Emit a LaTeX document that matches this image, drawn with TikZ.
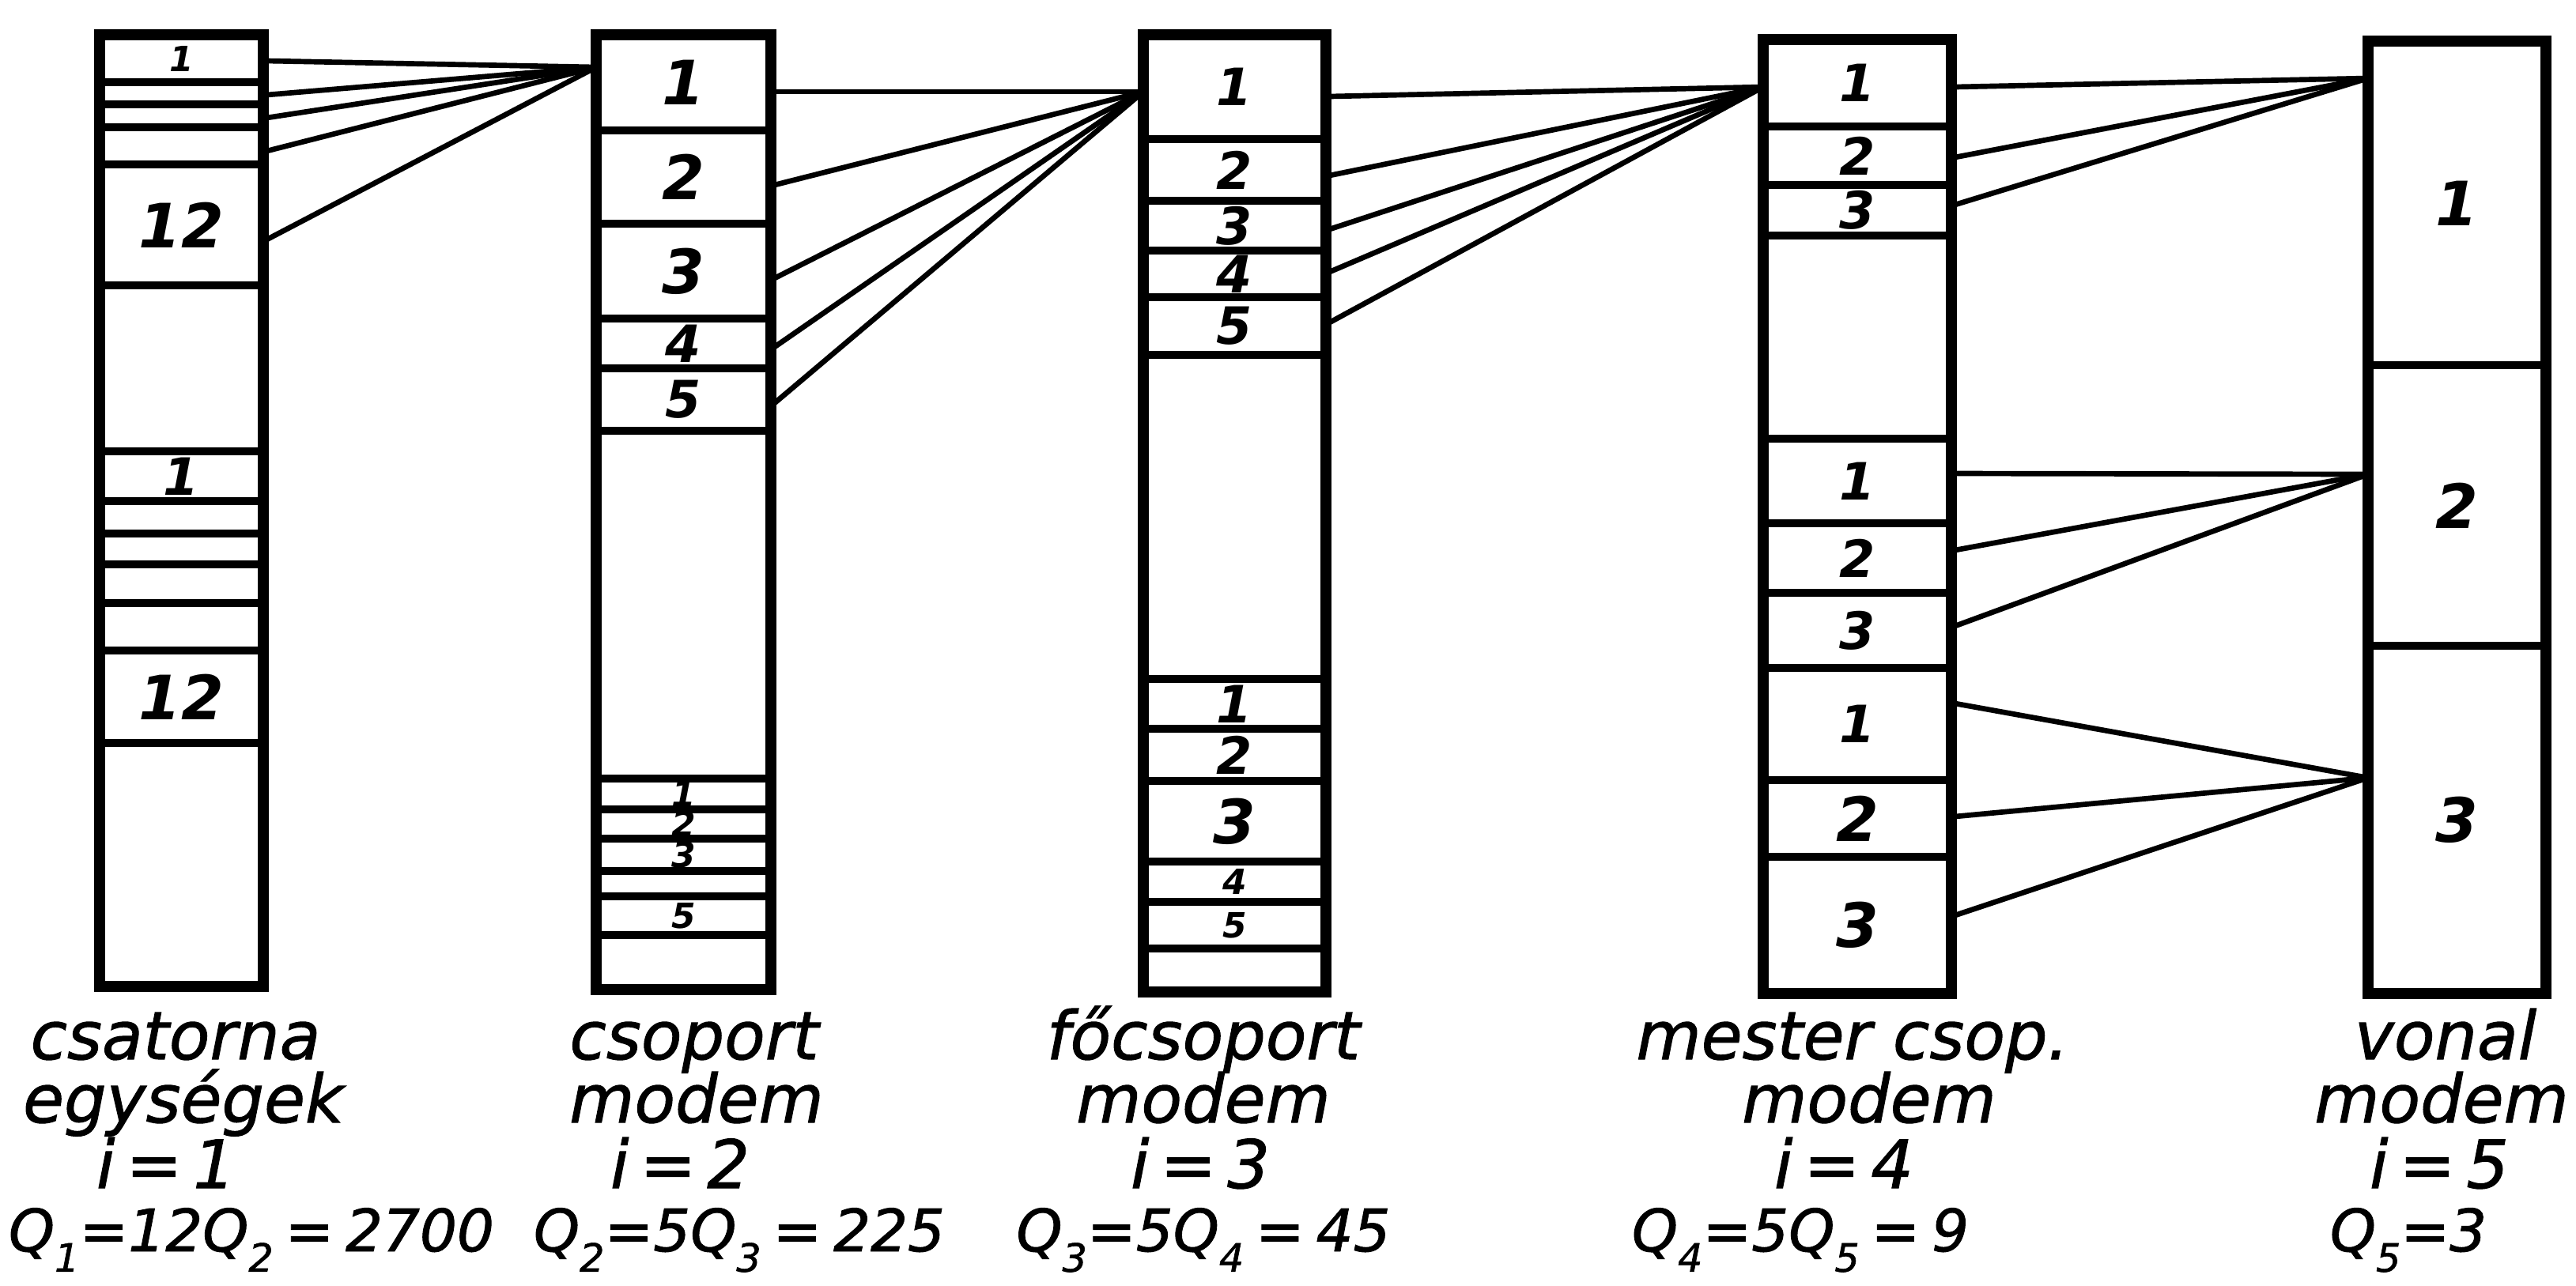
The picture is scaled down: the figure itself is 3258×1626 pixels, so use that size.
\documentclass[tikz,border=0pt]{standalone}
\usepackage{fontspec}
\setmainfont{DejaVu Sans}
\newfontface\capfont{DejaVu Sans Oblique}[FakeBold=1.2]
\usetikzlibrary{fit}
\tikzset{
  slotbox/.style={draw, line width=2.6pt, inner sep=0pt},
  colframe/.style={draw, line width=4pt, inner sep=0pt},
  conn/.style={line width=1.9pt},
  numL/.style={font=\fontsize{22pt}{22pt}\selectfont\bfseries\itshape, inner sep=0pt},
  numM/.style={font=\fontsize{18.5pt}{18.5pt}\selectfont\bfseries\itshape, inner sep=0pt},
  numS/.style={font=\fontsize{12.5pt}{12.5pt}\selectfont\bfseries\itshape, inner sep=0pt},
  caption/.style={font=\fontsize{24pt}{24pt}\capfont, anchor=base, inner sep=0pt},
  qline/.style={font=\fontsize{21pt}{21pt}\capfont, anchor=base, inner sep=0pt},
}
\newcommand\slotn[7]{\node[slotbox, fit={(#2,#4)(#3,#5)}, label={[#6]center:#7}] (#1) {};}
\newcommand\slote[5]{\node[slotbox, fit={(#2,#4)(#3,#5)}] (#1) {};}
\newcommand\qsub[1]{\raisebox{-0.35em}{\fontsize{14pt}{14pt}\capfont #1}}
\begin{document}
\begin{tikzpicture}[x=0.01cm, y=-0.01cm]
\useasboundingbox (0,0) rectangle (3258,1626);
% ---------- column 1 ----------
\slotn{s1a}{126}{333}{44}{104}{numS}{1}
\slote{s1b}{126}{333}{104}{132}
\slote{s1c}{126}{333}{132}{161}
\slote{s1d}{126}{333}{161}{208}
\slotn{s1e}{126}{333}{208}{361}{numL}{12}
\slote{s1f}{126}{333}{361}{571}
\slotn{s1g}{126}{333}{571}{634}{numM}{1}
\slote{s1h}{126}{333}{634}{675}
\slote{s1i}{126}{333}{675}{714}
\slote{s1j}{126}{333}{714}{763}
\slote{s1k}{126}{333}{763}{823}
\slotn{s1l}{126}{333}{823}{940}{numL}{12}
\slote{s1m}{126}{333}{940}{1248}
\node[colframe, fit={(126,44)(333,1248)}] (c1) {};
% ---------- column 2 ----------
\slotn{s2a}{754}{975}{44}{165}{numL}{1}
\slotn{s2b}{754}{975}{165}{283}{numL}{2}
\slotn{s2c}{754}{975}{283}{403}{numL}{3}
\slotn{s2d}{754}{975}{403}{466}{numM}{4}
\slotn{s2e}{754}{975}{466}{545}{numM}{5}
\slote{s2f}{754}{975}{545}{985}
\slotn{s2g}{754}{975}{985}{1024}{numS}{1}
\slotn{s2h}{754}{975}{1024}{1061}{numS}{2}
\slotn{s2i}{754}{975}{1061}{1102}{numS}{3}
\slote{s2j}{754}{975}{1102}{1134}
\slotn{s2k}{754}{975}{1134}{1183}{numS}{5}
\slote{s2l}{754}{975}{1183}{1252}
\node[colframe, fit={(754,44)(975,1252)}] (c2) {};
% ---------- column 3 ----------
\slotn{s3a}{1446}{1677}{44}{176}{numM}{1}
\slotn{s3b}{1446}{1677}{176}{254}{numM}{2}
\slotn{s3c}{1446}{1677}{254}{317}{numM}{3}
\slotn{s3d}{1446}{1677}{317}{376}{numM}{4}
\slotn{s3e}{1446}{1677}{376}{449}{numM}{5}
\slote{s3f}{1446}{1677}{449}{859}
\slotn{s3g}{1446}{1677}{859}{922}{numM}{1}
\slotn{s3h}{1446}{1677}{922}{988}{numM}{2}
\slotn{s3i}{1446}{1677}{988}{1090}{numL}{3}
\slotn{s3j}{1446}{1677}{1090}{1141}{numS}{4}
\slotn{s3k}{1446}{1677}{1141}{1200}{numS}{5}
\slote{s3l}{1446}{1677}{1200}{1255}
\node[colframe, fit={(1446,44)(1677,1255)}] (c3) {};
% ---------- column 4 ----------
\slotn{s4a}{2230}{2468}{50}{160}{numM}{1}
\slotn{s4b}{2230}{2468}{160}{234}{numM}{2}
\slotn{s4c}{2230}{2468}{234}{298}{numM}{3}
\slote{s4d}{2230}{2468}{298}{555}
\slotn{s4e}{2230}{2468}{555}{662}{numM}{1}
\slotn{s4f}{2230}{2468}{662}{750}{numM}{2}
\slotn{s4g}{2230}{2468}{750}{845}{numM}{3}
\slotn{s4h}{2230}{2468}{845}{987}{numM}{1}
\slotn{s4i}{2230}{2468}{987}{1084}{numL}{2}
\slotn{s4j}{2230}{2468}{1084}{1257}{numL}{3}
\node[colframe, fit={(2230,50)(2468,1257)}] (c4) {};
% ---------- column 5 ----------
\slotn{s5a}{2995}{3220}{52}{462}{numL}{1}
\slotn{s5b}{2995}{3220}{462}{817}{numL}{2}
\slotn{s5c}{2995}{3220}{817}{1257}{numL}{3}
\node[colframe, fit={(2995,52)(3220,1257)}] (c5) {};
% ---------- convergence points ----------
\coordinate (p12) at (754,85);
\coordinate (p23) at (1446,116);
\coordinate (p34) at (2230,110);
\coordinate (p45a) at (2995,99);
\coordinate (p45b) at (2995,600);
\coordinate (p45c) at (2995,984);
% ---------- connectors ----------
\foreach \s/\y in {s1a/77,s1b/120,s1c/149,s1d/191,s1e/303}
  \draw[conn] (\s.east |- 0,\y) -- (p12);
\foreach \s/\y in {s2a/116,s2b/234,s2c/352,s2d/439,s2e/510}
  \draw[conn] (\s.east |- 0,\y) -- (p23);
\foreach \s/\y in {s3a/122,s3b/222,s3c/290,s3d/344,s3e/408}
  \draw[conn] (\s.east |- 0,\y) -- (p34);
\foreach \s/\y in {s4a/110,s4b/199,s4c/259}
  \draw[conn] (\s.east |- 0,\y) -- (p45a);
\foreach \s/\y in {s4e/599,s4f/696,s4g/792}
  \draw[conn] (\s.east |- 0,\y) -- (p45b);
\foreach \s/\y in {s4h/890,s4i/1033,s4j/1158}
  \draw[conn] (\s.east |- 0,\y) -- (p45c);
% ---------- captions ----------
\node[caption] (t1a) at (222,1340) {csatorna};
\node[caption] (t1b) at (232,1420) {egységek};
\node[caption] (t1c) at (210,1503) {i\,=\,1};
\node[qline] (t1d) at (318,1583) {Q\qsub{1}=12Q\qsub{2}\hspace{.2em}=\hspace{.2em}2700};
\node[caption] (t2a) at (878,1340) {csoport};
\node[caption] (t2b) at (881,1420) {modem};
\node[caption] (t2c) at (860,1503) {i\,=\,2};
\node[qline] (t2d) at (935,1583) {Q\qsub{2}=5Q\qsub{3}\hspace{.2em}=\hspace{.2em}225};
\node[caption] (t3a) at (1522,1340) {főcsoport};
\node[caption] (t3b) at (1522,1420) {modem};
\node[caption] (t3c) at (1518,1503) {i\,=\,3};
\node[qline] (t3d) at (1522,1583) {Q\qsub{3}=5Q\qsub{4}\hspace{.2em}=\hspace{.2em}45};
\node[caption] (t4a) at (2343,1340) {mester csop.};
\node[caption] (t4b) at (2364,1420) {modem};
\node[caption] (t4c) at (2332,1503) {i\,=\,4};
\node[qline] (t4d) at (2277,1583) {Q\qsub{4}=5Q\qsub{5}\hspace{.2em}=\hspace{.2em}9};
\node[caption] (t5a) at (3093,1340) {vonal};
\node[caption] (t5b) at (3088,1420) {modem};
\node[caption] (t5c) at (3085,1503) {i\,=\,5};
\node[qline] (t5d) at (3046,1583) {Q\qsub{5}=3};
\end{tikzpicture}
\end{document}
